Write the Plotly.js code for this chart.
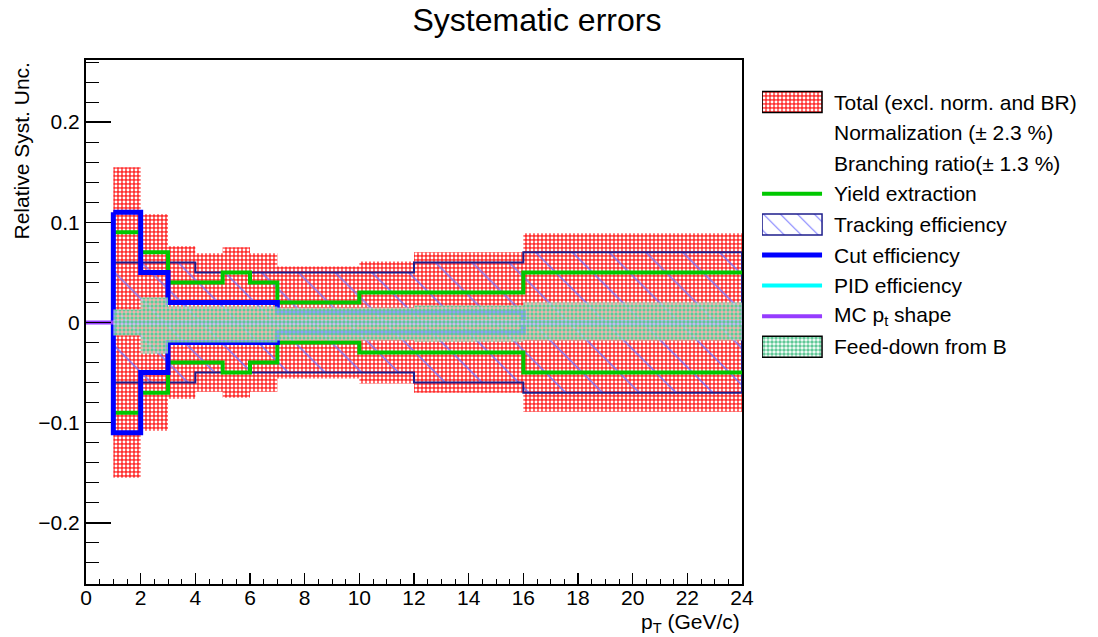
<!DOCTYPE html>
<html>
<head>
<meta charset="utf-8">
<script src="https://cdn.plot.ly/plotly-3.0.1.min.js"></script>
<style>
  html, body { margin: 0; padding: 0; background: #ffffff; }
  #chart { width: 1098px; height: 637px; }
</style>
</head>
<body>
<div id="chart"></div>
<script>
// pT binning (GeV/c)
const binEdges = [1, 2, 3, 4, 5, 6, 7, 10, 12, 16, 24];
const mcBinEdges = [0, 1, 2, 3, 4, 5, 6, 7, 10, 12, 16, 24];

// relative systematic uncertainties per pT bin
const totalUnc    = [0.155, 0.108, 0.076, 0.069, 0.075, 0.069, 0.056, 0.061, 0.070, 0.089];
const trackingUnc = [0.06, 0.06, 0.06, 0.05, 0.05, 0.05, 0.05, 0.05, 0.06, 0.07];
const yieldUnc    = [0.09, 0.07, 0.04, 0.04, 0.05, 0.04, 0.02, 0.03, 0.03, 0.05];
const cutUnc      = [0.11, 0.05, 0.02, 0.02, 0.02, 0.02, 0.01, 0.01, 0.01, 0.0];
const pidUnc      = [0, 0, 0, 0, 0, 0, 0, 0, 0, 0];
const mcShapeUnc  = [0, 0, 0, 0, 0, 0, 0, 0, 0, 0, 0];
const feedDownUp  = [0.013, 0.025, 0.016, 0.016, 0.016, 0.016, 0.015, 0.015, 0.017, 0.020];
const feedDownLow = [0.013, 0.031, 0.020, 0.020, 0.020, 0.020, 0.018, 0.018, 0.019, 0.018];

// legend entries, top to bottom
const legendLabels = [
  'Total (excl. norm. and BR)',
  'Normalization (± 2.3 %)',
  'Branching ratio(± 1.3 %)',
  'Yield extraction',
  'Tracking efficiency',
  'Cut efficiency',
  'PID efficiency',
  'MC p<sub>t</sub> shape',
  'Feed-down from B'
];

const FONT = 'Liberation Sans, Arial, sans-serif';

// styles
const S = {
  total:    { fillpattern: { shape: '.', bgcolor: 'rgb(255,45,45)', fgcolor: 'rgb(255,255,255)', size: 4, solidity: 0.42 } },
  tracking: { line: 'rgb(30,30,140)', fillpattern: { shape: '\\', bgcolor: 'rgba(0,0,0,0)', fgcolor: 'rgba(110,110,255,0.85)', size: 26, solidity: 0.06 } },
  yield:    { color: 'rgb(0,200,0)', width: 4 },
  cut:      { color: 'rgb(0,0,255)', width: 5 },
  pid:      { color: 'rgb(0,255,255)', width: 4 },
  mc:       { color: 'rgb(150,60,255)', width: 4 },
  feed:     { fillpattern: { shape: '.', bgcolor: 'rgba(255,255,255,0.6)', fgcolor: 'rgb(95,200,150)', size: 4, solidity: 0.6 } }
};

// closed stepped outline: upper edge left->right, lower edge right->left
function band(edges, up, low) {
  const x = [], y = [];
  for (let i = 0; i < up.length; i++) { x.push(edges[i], edges[i + 1]); y.push(up[i], up[i]); }
  for (let i = low.length - 1; i >= 0; i--) { x.push(edges[i + 1], edges[i]); y.push(-low[i], -low[i]); }
  x.push(x[0]); y.push(y[0]);
  return { x, y };
}
// histogram-style step line
function steps(edges, vals, sign) {
  return { x: edges.slice(), y: vals.concat([vals[vals.length - 1]]).map(v => sign * v) };
}

const traces = [];
const none = 'rgba(0,0,0,0)';

const tot = band(binEdges, totalUnc, totalUnc);
traces.push({ x: tot.x, y: tot.y, type: 'scatter', mode: 'lines', fill: 'toself',
  line: { width: 0, color: none }, fillcolor: none, fillpattern: S.total.fillpattern, hoverinfo: 'skip' });

const trk = band(binEdges, trackingUnc, trackingUnc);
traces.push({ x: trk.x, y: trk.y, type: 'scatter', mode: 'lines', fill: 'toself',
  line: { width: 2, color: S.tracking.line }, fillcolor: none, fillpattern: S.tracking.fillpattern, hoverinfo: 'skip' });

[1, -1].forEach(sign => {
  const s = steps(binEdges, yieldUnc, sign);
  traces.push({ x: s.x, y: s.y, type: 'scatter', mode: 'lines',
    line: { shape: 'hv', width: S.yield.width, color: S.yield.color }, hoverinfo: 'skip' });
});

const cut = band(binEdges, cutUnc, cutUnc);
traces.push({ x: cut.x, y: cut.y, type: 'scatter', mode: 'lines',
  line: { width: S.cut.width, color: S.cut.color }, hoverinfo: 'skip' });

const pid = steps(binEdges, pidUnc, 1);
traces.push({ x: pid.x, y: pid.y, type: 'scatter', mode: 'lines',
  line: { shape: 'hv', width: S.pid.width, color: S.pid.color }, hoverinfo: 'skip' });

const mc = steps(mcBinEdges, mcShapeUnc, 1);
traces.push({ x: mc.x, y: mc.y, type: 'scatter', mode: 'lines',
  line: { shape: 'hv', width: S.mc.width, color: S.mc.color }, hoverinfo: 'skip' });

const fd = band(binEdges, feedDownUp, feedDownLow);
traces.push({ x: fd.x, y: fd.y, type: 'scatter', mode: 'lines', fill: 'toself',
  line: { width: 0, color: none }, fillcolor: none, fillpattern: S.feed.fillpattern, hoverinfo: 'skip' });

// ---- legend panel on its own pixel-scaled axes (x2/y2) ----
const LEG_TOP = 102, LEG_STEP = 30.6, KEY_L = 762, KEY_R = 822, KEY_H = 10.5, TEXT_X = 832;
const rowY = i => LEG_TOP + LEG_STEP * i;
function keyBox(i, fillpattern, lineColor) {
  const y0 = rowY(i) - KEY_H, y1 = rowY(i) + KEY_H;
  return { x: [KEY_L, KEY_R, KEY_R, KEY_L, KEY_L], y: [y0, y0, y1, y1, y0], xaxis: 'x2', yaxis: 'y2',
    type: 'scatter', mode: 'lines', fill: 'toself', fillcolor: none, fillpattern: fillpattern,
    line: { width: 1.5, color: lineColor }, hoverinfo: 'skip' };
}
function keyLine(i, st) {
  return { x: [KEY_L, KEY_R], y: [rowY(i), rowY(i)], xaxis: 'x2', yaxis: 'y2', type: 'scatter', mode: 'lines',
    line: { width: st.width, color: st.color }, hoverinfo: 'skip' };
}
traces.push(keyBox(0, S.total.fillpattern, '#000'));
traces.push(keyLine(3, S.yield));
traces.push(keyBox(4, Object.assign({}, S.tracking.fillpattern, { size: 12, solidity: 0.1 }), S.tracking.line));
traces.push(keyLine(5, S.cut));
traces.push(keyLine(6, S.pid));
traces.push(keyLine(7, S.mc));
traces.push(keyBox(8, S.feed.fillpattern, '#000'));

const legendText = legendLabels.map((t, i) => ({
  text: t, xref: 'x2', yref: 'y2', x: TEXT_X, y: rowY(i), xanchor: 'left', yanchor: 'middle',
  showarrow: false, font: { family: FONT, size: 21, color: '#000' }
}));

const layout = {
  width: 1098, height: 637,
  margin: { l: 86, r: 10, t: 60, b: 53 },
  paper_bgcolor: '#ffffff', plot_bgcolor: '#ffffff',
  font: { family: FONT, size: 21, color: '#000000' },
  showlegend: false,
  title: { text: 'Systematic errors', x: 0.489, xanchor: 'center', y: 0.969, yanchor: 'middle',
           font: { family: FONT, size: 32, color: '#000000' } },
  xaxis: {
    domain: [0, 0.6547],
    range: [0, 24], dtick: 2, tick0: 0, ticks: 'inside', ticklen: 11, tickwidth: 1.5, tickcolor: '#000',
    minor: { dtick: 0.5, ticks: 'inside', ticklen: 5, tickwidth: 1, tickcolor: '#000' },
    showline: true, linewidth: 2, linecolor: '#000', mirror: true, ticklabelstandoff: -6,
    showgrid: false, zeroline: false, tickfont: { family: FONT, size: 21 }
  },
  yaxis: {
    range: [-0.261, 0.262], dtick: 0.1, tick0: 0, ticks: 'inside', ticklen: 25, tickwidth: 1.5, tickcolor: '#000',
    minor: { dtick: 0.02, ticks: 'inside', ticklen: 13, tickwidth: 1, tickcolor: '#000' },
    showline: true, linewidth: 2, linecolor: '#000', mirror: true,
    showgrid: false, zeroline: false, tickfont: { family: FONT, size: 21 }
  },
  xaxis2: { domain: [0.6747, 1], range: [762, 1088], anchor: 'y2', visible: false, fixedrange: true },
  yaxis2: { domain: [0, 1], range: [584, 60], anchor: 'x2', visible: false, fixedrange: true },
  annotations: [
    { text: 'Relative Syst. Unc.', xref: 'paper', yref: 'paper', x: -0.0639, y: 1, xanchor: 'center', yanchor: 'top',
      textangle: -90, showarrow: false, font: { family: FONT, size: 21, color: '#000' } },
    { text: 'p<sub>T</sub> (GeV/c)', xref: 'x', yref: 'paper', x: 24, y: -0.074, xanchor: 'right', yanchor: 'middle',
      showarrow: false, font: { family: FONT, size: 21, color: '#000' } }
  ].concat(legendText)
};

Plotly.newPlot('chart', traces, layout, { staticPlot: true, displayModeBar: false });
</script>
</body>
</html>
